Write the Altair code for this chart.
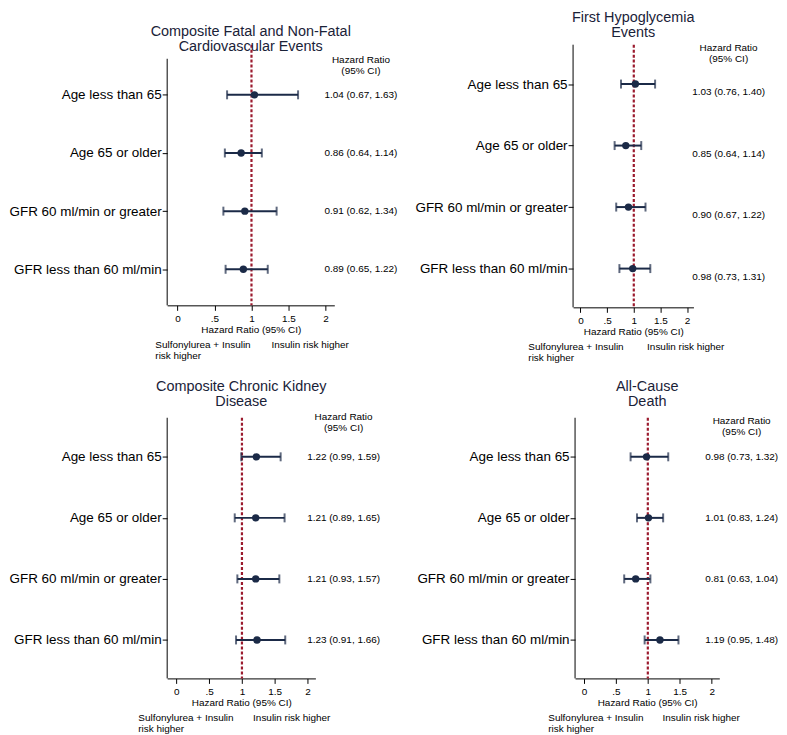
import json
import altair as alt
import pandas as pd

# ---------------- data ----------------
groups = ["Age less than 65", "Age 65 or older",
          "GFR 60 ml/min or greater", "GFR less than 60 ml/min"]

cv_hr = [1.04, 0.86, 0.91, 0.89]
cv_lo = [0.67, 0.64, 0.62, 0.65]
cv_hi = [1.63, 1.14, 1.34, 1.22]

hypo_hr = [1.03, 0.85, 0.90, 0.98]
hypo_lo = [0.76, 0.64, 0.67, 0.73]
hypo_hi = [1.40, 1.14, 1.22, 1.31]

ckd_hr = [1.22, 1.21, 1.21, 1.23]
ckd_lo = [0.99, 0.89, 0.93, 0.91]
ckd_hi = [1.59, 1.65, 1.57, 1.66]

death_hr = [0.98, 1.01, 0.81, 1.19]
death_lo = [0.73, 0.83, 0.63, 0.95]
death_hi = [1.32, 1.24, 1.04, 1.48]

x_ticks = [0, 0.5, 1, 1.5, 2]
reference_hr = [1]

titles = {
    "cv": ["Composite Fatal and Non-Fatal", "Cardiovascular Events"],
    "hypo": ["First Hypoglycemia", "Events"],
    "ckd": ["Composite Chronic Kidney", "Disease"],
    "death": ["All-Cause", "Death"],
}
header_text = ["Hazard Ratio", "(95% CI)"]
x_title = "Hazard Ratio (95% CI)"
left_note = ["Sulfonylurea + Insulin", "risk higher"]
right_note = ["Insulin risk higher"]

# ---------------- style ----------------
FONT = "Liberation Sans"
NAVY = "#1b2a47"
TITLE_COL = "#1a2238"
RED = "#9b1b2e"
XDOM = [-0.14, 2.12]
SMALL = 10


def panel(title, hr, lo, hi, w, h, ydom, axis_top, text_x, head_y, ann_dy,
          fn_x, title_offset):
    df = pd.DataFrame({"group": groups, "row": list(range(1, len(groups) + 1)),
                       "hr": hr, "lo": lo, "hi": hi})
    df["label"] = [f"{a:.2f} ({b:.2f}, {c:.2f})" for a, b, c in zip(hr, lo, hi)]
    df["tx"] = text_x
    ref = pd.DataFrame({"ref": reference_hr})
    step = h / (ydom[1] - ydom[0])
    fn_y = ydom[1] + 35 / step
    notes_l = pd.DataFrame({"nx": [fn_x[0]], "ny": [fn_y]})
    notes_r = pd.DataFrame({"nx": [fn_x[1]], "ny": [fn_y]})
    head_df = pd.DataFrame({"tx": [text_x], "row": [head_y]})
    yline = pd.DataFrame({"ax": [XDOM[0]], "y1": [axis_top], "y2": [ydom[1]]})

    yscale = alt.Scale(domain=ydom, reverse=True, nice=False, zero=False)
    xscale = alt.Scale(domain=XDOM, nice=False, zero=False)
    label_expr = json.dumps(groups) + "[datum.value - 1]"
    yaxis = alt.Axis(values=list(range(1, len(groups) + 1)), labelExpr=label_expr,
                     title=None, grid=False, domain=False, labelFontSize=13.5,
                     tickSize=5, labelPadding=1)
    xaxis = alt.Axis(values=x_ticks, format="~g",
                     labelExpr="datum.value == 0.5 ? '.5' : datum.label",
                     title=x_title, grid=False, labelFontSize=10, tickSize=5,
                     labelPadding=3, titleFontSize=SMALL, titleFontWeight="normal",
                     titlePadding=1)

    def X(field):
        return alt.X(field, scale=xscale, axis=xaxis)

    def Y(field):
        return alt.Y(field, scale=yscale, axis=yaxis)

    axis_line = alt.Chart(yline).mark_rule(color="black", strokeWidth=1).encode(
        x=X("ax:Q"), y=Y("y1:Q"), y2="y2:Q")
    refline = alt.Chart(ref).mark_rule(color=RED, strokeWidth=2.2,
                                       strokeDash=[3, 2]).encode(x=X("ref:Q"))
    bars = alt.Chart(df).mark_rule(color=NAVY, strokeWidth=2).encode(
        x=X("lo:Q"), x2="hi:Q", y=Y("row:Q"))
    cap_lo = alt.Chart(df).mark_tick(color=NAVY, orient="vertical", size=9,
                                     thickness=2).encode(x=X("lo:Q"), y=Y("row:Q"))
    cap_hi = alt.Chart(df).mark_tick(color=NAVY, orient="vertical", size=9,
                                     thickness=2).encode(x=X("hi:Q"), y=Y("row:Q"))
    dots = alt.Chart(df).mark_circle(color=NAVY, opacity=1, size=55).encode(
        x=X("hr:Q"), y=Y("row:Q"))

    note_l = alt.Chart(notes_l).mark_text(text=left_note, align="left",
                                          baseline="top", fontSize=SMALL,
                                          lineHeight=11, font=FONT,
                                          color="black").encode(
        x=X("nx:Q"), y=Y("ny:Q"))
    note_r = alt.Chart(notes_r).mark_text(text=right_note, align="left",
                                          baseline="top", fontSize=SMALL,
                                          lineHeight=11, font=FONT,
                                          color="black").encode(
        x=X("nx:Q"), y=Y("ny:Q"))
    head = alt.Chart(head_df).mark_text(text=header_text, fontSize=SMALL,
                                        lineHeight=11, font=FONT, color="black",
                                        baseline="middle").encode(
        x=X("tx:Q"), y=Y("row:Q"))
    ann = alt.Chart(df).mark_text(fontSize=SMALL, font=FONT, color="black",
                                  dy=ann_dy).encode(
        x=X("tx:Q"), y=Y("row:Q"), text="label:N")

    return alt.layer(axis_line, refline, bars, cap_lo, cap_hi, dots,
                     note_l, note_r, head, ann).properties(
        width=w, height=h,
        title=alt.TitleParams(text=title, fontSize=14.5, font=FONT,
                              color=TITLE_COL, fontWeight="normal",
                              lineHeight=15, offset=title_offset,
                              anchor="middle"))


p1 = panel(titles["cv"], cv_hr, cv_lo, cv_hi, 168, 262, [0.138, 4.62], 0.38,
           2.48, 0.40, 0, (-0.30, 1.27), -11)
p2 = panel(titles["hypo"], hypo_hr, hypo_lo, hypo_hi, 121, 264, [0.36, 4.63], 0.36,
           2.78, 0.42, 8, (-0.98, 1.25), 3)
p3 = panel(titles["ckd"], ckd_hr, ckd_lo, ckd_hi, 149, 262, [0.36, 4.63], 0.36,
           2.55, 0.35, 0, (-0.58, 1.17), 3)
p4 = panel(titles["death"], death_hr, death_lo, death_hi, 145, 262, [0.36, 4.63],
           0.36, 2.47, 0.42, 0, (-0.56, 1.23), 7)

top = alt.hconcat(p1, p2, spacing=16)
bottom = alt.hconcat(p3, p4, spacing=35)

chart = alt.vconcat(top, bottom, spacing=15).properties(
    padding=0, background="white"
).configure_view(stroke=None).configure_axis(
    labelFont=FONT, titleFont=FONT, labelColor="black", titleColor="black",
    domainColor="black", tickColor="black", domainWidth=1, tickWidth=1
)

chart.save("out.html", embed_options={"renderer": "svg", "actions": False})
